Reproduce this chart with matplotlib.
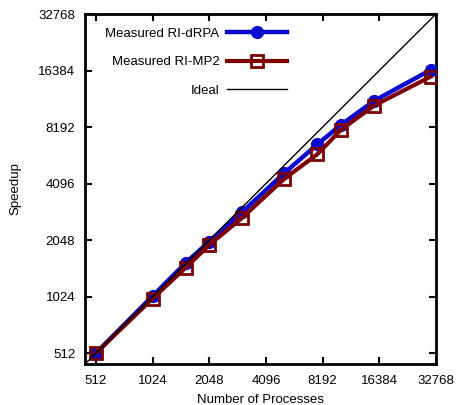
import matplotlib
matplotlib.use("Agg")
import matplotlib.pyplot as plt

plt.rcParams['font.family'] = ['Liberation Sans', 'DejaVu Sans']

# dane
procesy = [512, 1024, 1536, 2048, 3072, 5120, 7680, 10240, 15360, 30720]
speedup_drpa = [512, 1030, 1550, 2010, 2900, 4650, 6630, 8410, 11290, 16510]
speedup_mp2 = [512, 1000, 1460, 1930, 2700, 4340, 5870, 7910, 10650, 15210]
ideal = [448, 32768]
ticki = [512, 1024, 2048, 4096, 8192, 16384, 32768]

fig = plt.figure(figsize=(4.58, 4.05), dpi=100)
ax = fig.add_axes([85/458, 1-364/405, 351/458, 350/405])

ax.plot(procesy, speedup_drpa, '-o', color='#0a0ad0', lw=3.2, ms=7.5,
        mfc='#0a0ad0', mec='#0a0ad0', mew=2, label="Measured RI-dRPA", zorder=3)
ax.plot(procesy, speedup_mp2, '-s', color='#7c0000', lw=3, ms=8,
        mfc='none', mec='#7c0000', mew=2, label="Measured RI-MP2", zorder=4)
ax.plot(ideal, ideal, '-', color='black', lw=1, label="Ideal", zorder=5)

ax.set_xscale('log', base=2)
ax.set_yscale('log', base=2)
ax.set_xlim(448, 32768)
ax.set_ylim(448, 32768)
ax.set_xticks(ticki)
ax.set_yticks(ticki)
ax.set_xticklabels([str(t) for t in ticki])
ax.set_yticklabels([str(t) for t in ticki])
ax.minorticks_off()
ax.tick_params(direction='in', length=5, width=1.5, top=True, right=True,
               labelsize=9.5, colors='black')
ax.tick_params(axis='x', pad=8)
ax.tick_params(axis='y', pad=7)
for s in ax.spines.values():
    s.set_linewidth(2)

ax.set_xlabel("Number of Processes", fontsize=9.5, labelpad=5)
ax.set_ylabel("Speedup", fontsize=9.5, labelpad=12)

ax.legend(loc='upper right', bbox_to_anchor=(0.575, 0.961), markerfirst=False,
          frameon=False, fontsize=9.5, handlelength=4.5, labelspacing=1.24,
          borderpad=0, borderaxespad=0, handletextpad=0.6)

fig.savefig("out.png", dpi=100)
